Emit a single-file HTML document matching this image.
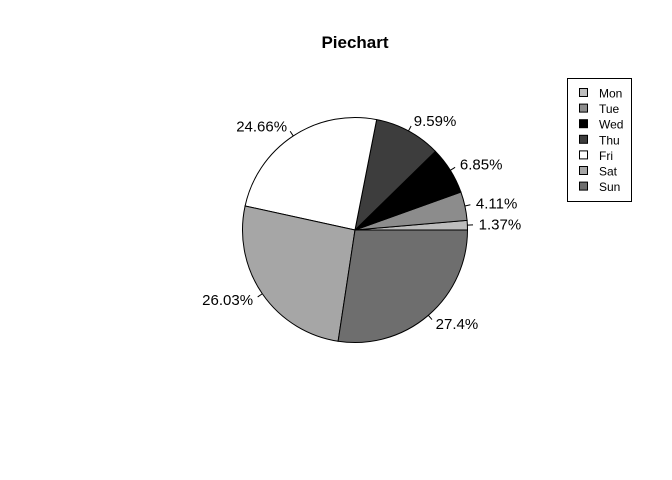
<!DOCTYPE html>
<html><head><meta charset="utf-8"><style>
body{margin:0;background:#fff;}
svg{display:block;font-family:"Liberation Sans",Arial,sans-serif;}
</style></head><body>
<svg id="chart" width="672" height="480">
<text x="355" y="48" text-anchor="middle" font-size="17" font-weight="bold">Piechart</text>
<g id="slices"></g>
<g id="legend"></g>
</svg>
<script>
const categories = ["Mon","Tue","Wed","Thu","Fri","Sat","Sun"];
const values = [1,3,5,7,18,19,20];
const labels = ["1.37%","4.11%","6.85%","9.59%","24.66%","26.03%","27.4%"];
const colors = ["#bdbdbd","#8c8c8c","#000000","#3d3d3d","#ffffff","#a6a6a6","#6e6e6e"];
const NS="http://www.w3.org/2000/svg";
const cx=355, cy=230, r=112.5;
const total=values.reduce((a,b)=>a+b,0);
const g=document.getElementById('slices');
const pt=(a,rr)=>[cx+rr*Math.cos(a), cy-rr*Math.sin(a)];
let a0=0;
values.forEach((v,i)=>{
  const a1=a0+v/total*2*Math.PI;
  const p0=pt(a0,r), p1=pt(a1,r);
  const large=(a1-a0)>Math.PI?1:0;
  const path=document.createElementNS(NS,'path');
  path.setAttribute('d',`M${cx},${cy} L${p0[0]},${p0[1]} A${r},${r} 0 ${large} 0 ${p1[0]},${p1[1]} Z`);
  path.setAttribute('fill',colors[i]);
  path.setAttribute('stroke','#000');
  path.setAttribute('stroke-width','1');
  
  
  g.appendChild(path);
  const am=(a0+a1)/2;
  const q0=pt(am,r), q1=pt(am,r*1.05), q2=pt(am,r*1.1);
  const ln=document.createElementNS(NS,'line');
  ln.setAttribute('x1',q0[0]);ln.setAttribute('y1',q0[1]);
  ln.setAttribute('x2',q1[0]);ln.setAttribute('y2',q1[1]);
  ln.setAttribute('stroke','#000');
  
  
  g.appendChild(ln);
  const t=document.createElementNS(NS,'text');
  t.setAttribute('x',q2[0]);t.setAttribute('y',q2[1]+5);
  t.setAttribute('font-size','15');
  t.setAttribute('text-anchor',Math.cos(am)>=0?'start':'end');
  t.textContent=labels[i];
  
  
  g.appendChild(t);
  a0=a1;
});
const lg=document.getElementById('legend');
const box=document.createElementNS(NS,'rect');
box.setAttribute('x',567.5);box.setAttribute('y',78.5);box.setAttribute('width',64);box.setAttribute('height',123);
box.setAttribute('fill','#fff');box.setAttribute('stroke','#000');


lg.appendChild(box);
categories.forEach((c,i)=>{
  const y=93+i*15.6;
  const s=document.createElementNS(NS,'rect');
  s.setAttribute('x',579.5);s.setAttribute('y',y-4.5);s.setAttribute('width',8);s.setAttribute('height',8);
  s.setAttribute('fill',colors[i]);s.setAttribute('stroke','#000');
  
  
  lg.appendChild(s);
  const t=document.createElementNS(NS,'text');
  t.setAttribute('x',599);t.setAttribute('y',y+4.5);t.setAttribute('font-size','12');
  t.textContent=c;
  
  
  lg.appendChild(t);
});
</script>
</body></html>
